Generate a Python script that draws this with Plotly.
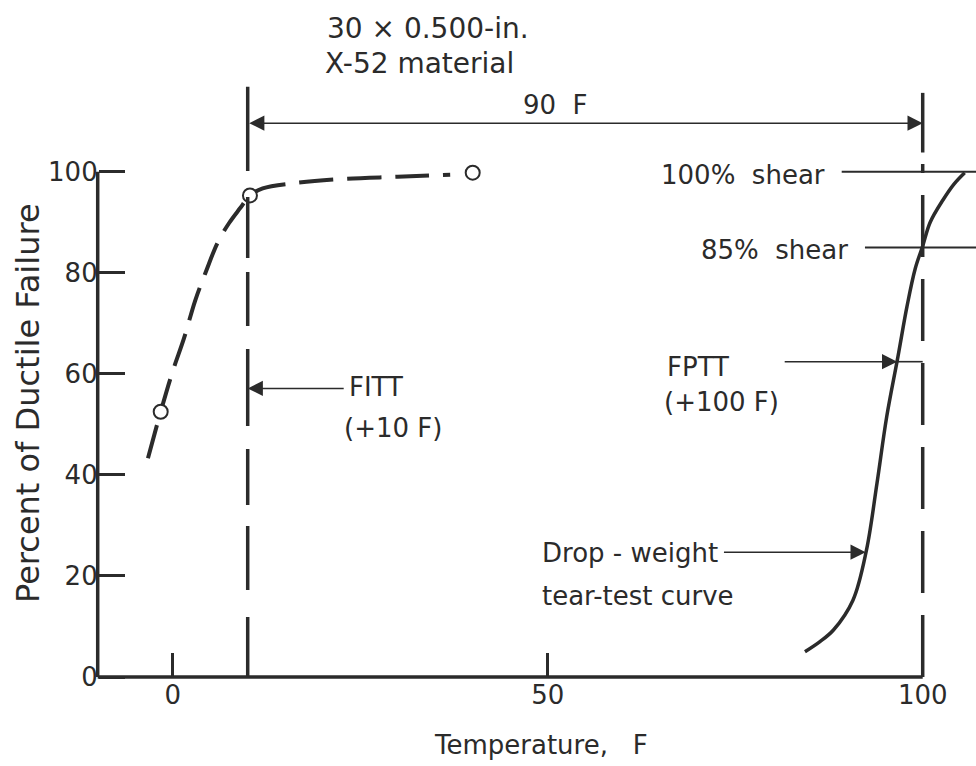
import plotly.graph_objects as go

# ---- data -------------------------------------------------------------
# Charpy (dashed) transition curve, temperature in F vs percent ductile failure
charpy_curve_temp = [-3.3, -1.6, 0.0, 1.5, 3.0, 4.5, 6.0, 7.5, 9.0, 10.3, 12.0, 16.0, 22.0, 30.0, 37.0]
charpy_curve_pct = [43.3, 52.5, 60.5, 67.0, 74.5, 80.5, 86.0, 89.8, 92.8, 95.3, 96.7, 97.7, 98.5, 99.0, 99.4]

# measured Charpy points (open circles)
charpy_pts_temp = [-1.6, 10.3, 40.0]
charpy_pts_pct = [52.5, 95.3, 99.8]

# drop-weight tear-test curve
dwtt_temp = [84.3, 86.3, 88.1, 90.7, 92.5, 93.9, 95.2, 96.7, 97.9, 99.0, 100.0, 101.0, 102.7, 104.2, 105.6]
dwtt_pct = [5.0, 7.0, 9.3, 15.2, 25.1, 38.3, 51.5, 63.4, 73.3, 80.8, 85.3, 90.0, 94.4, 97.6, 99.8]

fitt_temp = 10     # fracture initiation transition temperature
fptt_temp = 100    # fracture propagation transition temperature
shear_levels = [100, 85]
shear_labels = ["100%\u00a0\u00a0shear", "85%\u00a0\u00a0shear"]

x_ticks = [0, 50, 100]
x_tick_text = ["0", "50", "100"]
y_ticks = [0, 20, 40, 60, 80, 100]
y_tick_text = ["0", "20", "40", "60", "80", "100"]

# ---- geometry ---------------------------------------------------------
FIG_W, FIG_H = 976, 766
L, R, T, B = 94, 0, 0, 81
W, H = FIG_W - L - R, FIG_H - T - B
XPX, YPX = 7.5, 5.053           # pixels per degree F / per percent
x_min = -10 - (97.7 - L) / XPX
x_max = x_min + W / XPX
y_min = -(FIG_H - B - 677) / YPX
y_max = y_min + H / YPX


def paper_x(px):
    return (px - L) / W


def paper_y(py):
    return (FIG_H - B - py) / H


INK = "#2b2b2b"
FONT = "DejaVu Sans"

fig = go.Figure()

# dashed Charpy curve
fig.add_trace(go.Scatter(
    x=charpy_curve_temp, y=charpy_curve_pct, mode="lines",
    line=dict(color=INK, width=4, dash="34px,14px", shape="spline", smoothing=1.0),
    hoverinfo="skip", showlegend=False,
))
# Charpy data points
fig.add_trace(go.Scatter(
    x=charpy_pts_temp, y=charpy_pts_pct, mode="markers",
    marker=dict(symbol="circle", size=14, color="white", line=dict(color=INK, width=2)),
    cliponaxis=False, showlegend=False,
))
# drop-weight tear-test curve
fig.add_trace(go.Scatter(
    x=dwtt_temp, y=dwtt_pct, mode="lines",
    line=dict(color=INK, width=3.5, shape="spline", smoothing=1.0),
    hoverinfo="skip", showlegend=False,
))

shapes = []
# axis lines (x axis stops at the FPTT line)
shapes.append(dict(type="line", xref="x", yref="y", x0=-10, x1=fptt_temp, y0=0, y1=0,
                   line=dict(color=INK, width=3.5)))
shapes.append(dict(type="line", xref="x", yref="y", x0=-10, x1=-10, y0=0, y1=100,
                   line=dict(color=INK, width=3.5)))
# FITT line: dashed from the axis up, long solid bracket at the top
shapes.append(dict(type="line", xref="x", yref="y", x0=fitt_temp, x1=fitt_temp, y0=0, y1=116.8,
                   line=dict(color=INK, width=3.5,
                             dash="60px,27px,64px,21px,56px,23px,77px,23px,54px,14px,61px,26px,200px")))
# FPTT line: dashed from the axis up, solid bracket at the top
shapes.append(dict(type="line", xref="x", yref="y", x0=fptt_temp, x1=fptt_temp, y0=0, y1=101.5,
                   line=dict(color=INK, width=3.5, dash="62px,22px")))
shapes.append(dict(type="line", xref="x", yref="y", x0=fptt_temp, x1=fptt_temp, y0=103.8, y1=115.6,
                   line=dict(color=INK, width=3.5)))
# percent-shear reference lines
for lvl, start in zip(shear_levels, [89.2, 92.3]):
    shapes.append(dict(type="line", xref="x", yref="y", x0=start, x1=x_max + 1, y0=lvl, y1=lvl,
                       line=dict(color=INK, width=2)))
# FPTT arrow continues from the curve to the FPTT line
shapes.append(dict(type="line", xref="x", yref="y", x0=96.6, x1=fptt_temp, y0=62.4, y1=62.4,
                   line=dict(color=INK, width=1.6)))

ann = []


def label(text, x, y, xanchor="left", size=26):
    ann.append(dict(text=text, x=x, y=y, xref="x", yref="y", xanchor=xanchor,
                    yanchor="middle", showarrow=False,
                    font=dict(family=FONT, size=size, color=INK)))


def arrow(x_head, x_tail, y, both=False):
    ann.append(dict(text="", x=x_head, y=y, ax=x_tail, ay=y, xref="x", yref="y",
                    axref="x", ayref="y", showarrow=True, arrowhead=2, arrowsize=1.9,
                    arrowwidth=1.6, arrowcolor=INK, standoff=0, startstandoff=0,
                    arrowside="end+start" if both else "end",
                    startarrowhead=2, startarrowsize=1.9))


label("30 \u00d7 0.500-in.", 20.3, 128.4, size=28)
label("X-52 material", 20.0, 121.4, size=28)
label("90\u00a0\u00a0F", 51.1, 113.3, "center")
arrow(fptt_temp, fitt_temp, 109.6, both=True)

label(shear_labels[0], 87.2, 99.3, "right")
label(shear_labels[1], 90.3, 84.5, "right")

label("FITT", 23.2, 57.4)
label("(+10 F)", 22.6, 49.3)
arrow(fitt_temp, 23.0, 57.1)

label("FPTT", 65.6, 61.4)
label("(+100 F)", 65.3, 54.5)
arrow(96.6, 81.4, 62.4)

label("Drop - weight", 49.0, 24.5)
label("tear-test curve", 49.0, 16.0)
arrow(92.4, 73.3, 24.7)

# axis titles
ann.append(dict(text="Percent of Ductile Failure", x=paper_x(28), y=paper_y(403),
                xref="paper", yref="paper", textangle=-90, showarrow=False,
                xanchor="center", yanchor="middle",
                font=dict(family=FONT, size=32, color=INK)))
ann.append(dict(text="Temperature,\u00a0\u00a0\u00a0F", x=paper_x(541), y=paper_y(745),
                xref="paper", yref="paper", showarrow=False,
                xanchor="center", yanchor="middle",
                font=dict(family=FONT, size=26, color=INK)))

fig.update_layout(
    width=FIG_W, height=FIG_H,
    margin=dict(l=L, r=R, t=T, b=B, pad=0),
    paper_bgcolor="white", plot_bgcolor="white",
    shapes=shapes, annotations=ann,
    xaxis=dict(range=[x_min, x_max], showgrid=False, zeroline=False, showline=False,
               tickvals=x_ticks, ticktext=x_tick_text, ticks="inside", ticklen=24,
               tickwidth=2.5, tickcolor=INK, anchor="free", position=paper_y(677),
               tickfont=dict(family=FONT, size=26, color=INK), fixedrange=True),
    yaxis=dict(range=[y_min, y_max], showgrid=False, zeroline=False, showline=False,
               tickvals=y_ticks, ticktext=y_tick_text, ticks="inside", ticklen=26,
               tickwidth=2.5, tickcolor=INK, anchor="free", position=paper_x(97.7),
               tickfont=dict(family=FONT, size=26, color=INK), fixedrange=True),
    showlegend=False,
)

fig.write_html("out.html")
